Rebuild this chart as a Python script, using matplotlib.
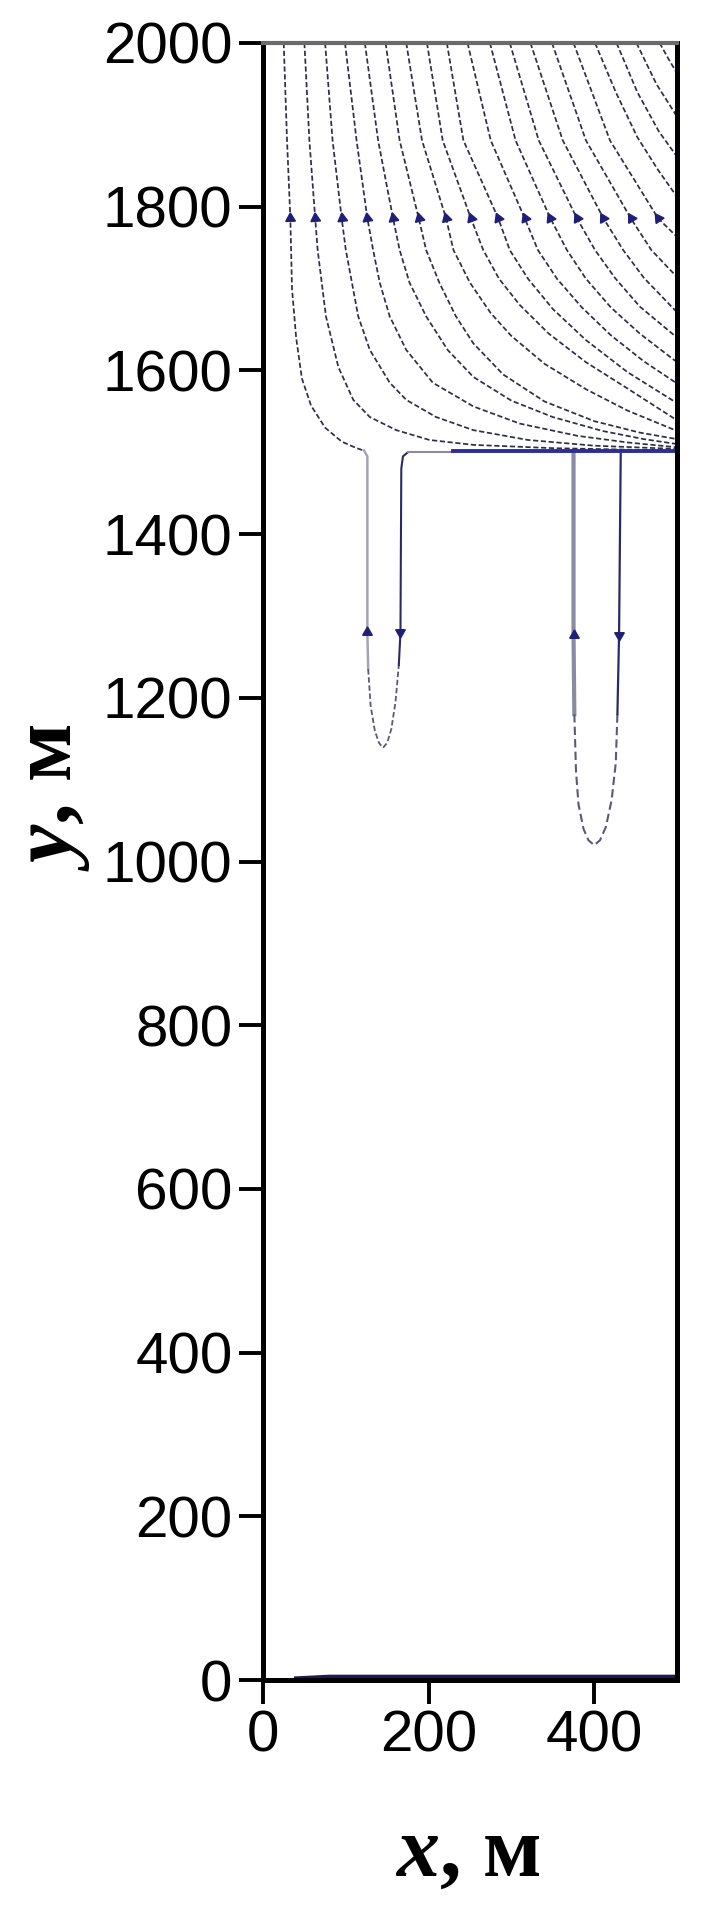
import numpy as np
import matplotlib.pyplot as plt

plt.rcParams['mathtext.fontset'] = 'custom'
plt.rcParams['mathtext.it'] = 'Liberation Serif:italic:bold'
plt.rcParams['mathtext.rm'] = 'Liberation Serif:bold'

# streamlines from the top edge down to the y = 1500 line (x, y)
s01 = [(25, 2000), (29, 1881), (33, 1786), (35, 1700), (40, 1640), (47, 1590), (58, 1557),
       (75, 1530), (95, 1513), (113, 1505), (122, 1502)]
s02 = [(50, 2000), (56, 1881), (63, 1786), (66, 1747), (76, 1666), (91, 1604), (109, 1564),
       (129, 1543), (161, 1527), (201, 1515), (254, 1509), (350, 1505), (500, 1502)]
s03 = [(75, 2000), (84, 1881), (95, 1786), (100, 1747), (115, 1666), (129, 1625), (153, 1585),
       (173, 1564), (209, 1543), (254, 1527), (320, 1515), (400, 1508), (500, 1504)]
s04 = [(99, 2000), (113, 1881), (126, 1786), (133, 1747), (141, 1707), (153, 1666), (173, 1625),
       (205, 1585), (254, 1556), (310, 1535), (380, 1520), (440, 1512), (500, 1506)]
s05 = [(123, 2000), (139, 1881), (157, 1786), (165, 1747), (177, 1707), (197, 1666), (223, 1625),
       (254, 1592), (300, 1563), (350, 1543), (410, 1526), (460, 1516), (500, 1510)]
s06 = [(148, 2000), (165, 1881), (188, 1786), (197, 1747), (213, 1707), (233, 1666), (254, 1633),
       (290, 1595), (340, 1562), (400, 1538), (455, 1524), (500, 1516)]
s07 = [(173, 2000), (192, 1881), (221, 1786), (230, 1747), (250, 1707), (275, 1670), (300, 1642),
       (340, 1608), (390, 1577), (440, 1551), (500, 1526)]
s08 = [(198, 2000), (217, 1881), (251, 1786), (266, 1747), (285, 1712), (310, 1680), (345, 1645),
       (390, 1610), (440, 1578), (500, 1539)]
s09 = [(222, 2000), (242, 1881), (284, 1786), (298, 1747), (320, 1712), (350, 1675), (390, 1637),
       (440, 1598), (500, 1560)]
s10 = [(247, 2000), (275, 1881), (316, 1786), (332, 1747), (355, 1712), (385, 1677), (420, 1643),
       (460, 1611), (500, 1584)]
s11 = [(274, 2000), (305, 1881), (347, 1786), (367, 1747), (390, 1712), (420, 1677), (455, 1645),
       (500, 1610)]
s12 = [(298, 2000), (333, 1881), (379, 1786), (401, 1747), (425, 1713), (455, 1678), (500, 1640)]
s13 = [(323, 2000), (362, 1881), (411, 1786), (435, 1747), (460, 1713), (500, 1671)]
s14 = [(349, 2000), (390, 1881), (444, 1786), (469, 1747), (500, 1714)]
s15 = [(375, 2000), (419, 1881), (477, 1786), (500, 1763)]
s16 = [(401, 2000), (426, 1940), (452, 1885), (477, 1845), (500, 1812)]
s17 = [(427, 2000), (452, 1940), (478, 1892), (500, 1861)]
s18 = [(451, 2000), (475, 1950), (500, 1910)]
s19 = [(479, 2000), (490, 1980), (500, 1963)]
streams = [s01, s02, s03, s04, s05, s06, s07, s08, s09, s10,
           s11, s12, s13, s14, s15, s16, s17, s18, s19]

# the two loops under y = 1500
u1_left = [(122, 1502), (126, 1495), (126, 1280), (127, 1235)]
u1_bot = [(127, 1235), (130, 1190), (135, 1160), (140, 1145), (145, 1139), (150, 1145),
          (155, 1162), (160, 1195), (164, 1240)]
u1_right = [(164, 1240), (166, 1280), (167, 1480), (169, 1495), (175, 1500)]
u2_left = [(375, 1500), (375, 1277), (376, 1180)]
u2_bot = [(376, 1180), (378, 1110), (381, 1070), (387, 1040), (393, 1026), (400, 1020),
          (407, 1026), (414, 1042), (421, 1075), (426, 1120), (428, 1180)]
u2_right = [(428, 1180), (430, 1277), (432, 1498)]

# horizontal stream at y = 1500 and the one along the bottom
h_grey_x = [175, 230]
h_grey_y = [1500, 1500]
h_blue_x = [230, 500]
h_blue_y = [1501, 1501]
bot_x = [40, 80, 500]
bot_y = [2, 4, 4]

# arrow heads: (x, y, pointing up?)
arrows = [(33, 1786, 1), (63, 1786, 1), (95, 1786, 1), (126, 1786, 1), (157, 1786, 1),
          (188, 1786, 1), (221, 1786, 1), (251, 1786, 1), (284, 1786, 1), (316, 1786, 1),
          (347, 1786, 1), (379, 1786, 1), (411, 1786, 1), (444, 1786, 1), (477, 1786, 1),
          (126, 1280, 1), (166, 1280, 0), (375, 1277, 1), (430, 1277, 0)]

navy = '#1f1f78'
line_col = '#2e2e48'

fig = plt.figure(figsize=(7.01, 19.10), dpi=100)
ax = fig.add_axes([0.3752, 0.1204, 0.5906, 0.8571])

for s in streams:
    xs, ys = zip(*s)
    ax.plot(xs, ys, color=line_col, lw=1.25, ls=(0, (3, 1.5)), solid_capstyle='butt')

def draw(pts, **kw):
    xs, ys = zip(*pts)
    ax.plot(xs, ys, **kw)

draw(u1_left, color='#a4a4b6', lw=1.8)
draw(u1_bot, color='#5a5a74', lw=1.3, ls=(0, (3, 1.5)))
draw(u1_right, color='#2a2a66', lw=1.5)
draw(u2_left, color='#8a8aa0', lw=3.0)
draw(u2_bot, color='#5a5a74', lw=1.5, ls=(0, (4, 2)))
draw(u2_right, color='#2a2a66', lw=1.6)
ax.plot(h_grey_x, h_grey_y, color='#8a8aa0', lw=1.5)
ax.plot(h_blue_x, h_blue_y, color='#2c2ca0', lw=2.8)
ax.plot(bot_x, bot_y, color='#1c1c50', lw=3.0, clip_on=False)

# arrow head direction follows the stream it sits on
for ax_, ay_, up in arrows:
    ang = 0.0 if up else 180.0
    for s in streams:
        if (ax_, ay_) in s:
            k = s.index((ax_, ay_))
            dx = s[k - 1][0] - s[k + 1][0]
            dy = s[k - 1][1] - s[k + 1][1]
            ang = np.degrees(np.arctan2(-dx, dy))
    ax.plot([ax_], [ay_], marker=(3, 0, ang), ms=8, color=navy, mec=navy, ls='none')

ax.set_xlim(0, 500)
ax.set_ylim(0, 2000)
ax.set_xticks([0, 200, 400])
ax.set_yticks(np.arange(0, 2001, 200))
ax.tick_params(direction='out', length=17, width=2.8, labelsize=42, pad=4)
ax.tick_params(axis='y', pad=5)
for lab in ax.get_xticklabels() + ax.get_yticklabels():
    lab.set_fontfamily('Liberation Sans')
for side in ['left', 'bottom', 'right']:
    ax.spines[side].set_linewidth(3.6)
ax.spines['top'].set_linewidth(3.0)
ax.spines['top'].set_color('#6a6a6a')

fig.text(468 / 701, 1 - 1855 / 1910, r'$\mathit{x}$, м', fontsize=62, fontweight='bold',
         family='Liberation Serif', ha='center', va='center')
fig.text(53 / 701, 1 - 797 / 1910, r'$\mathit{y}$, м', fontsize=62, fontweight='bold',
         family='Liberation Serif', ha='center', va='center', rotation=90)

fig.savefig('out.png', dpi=100)
